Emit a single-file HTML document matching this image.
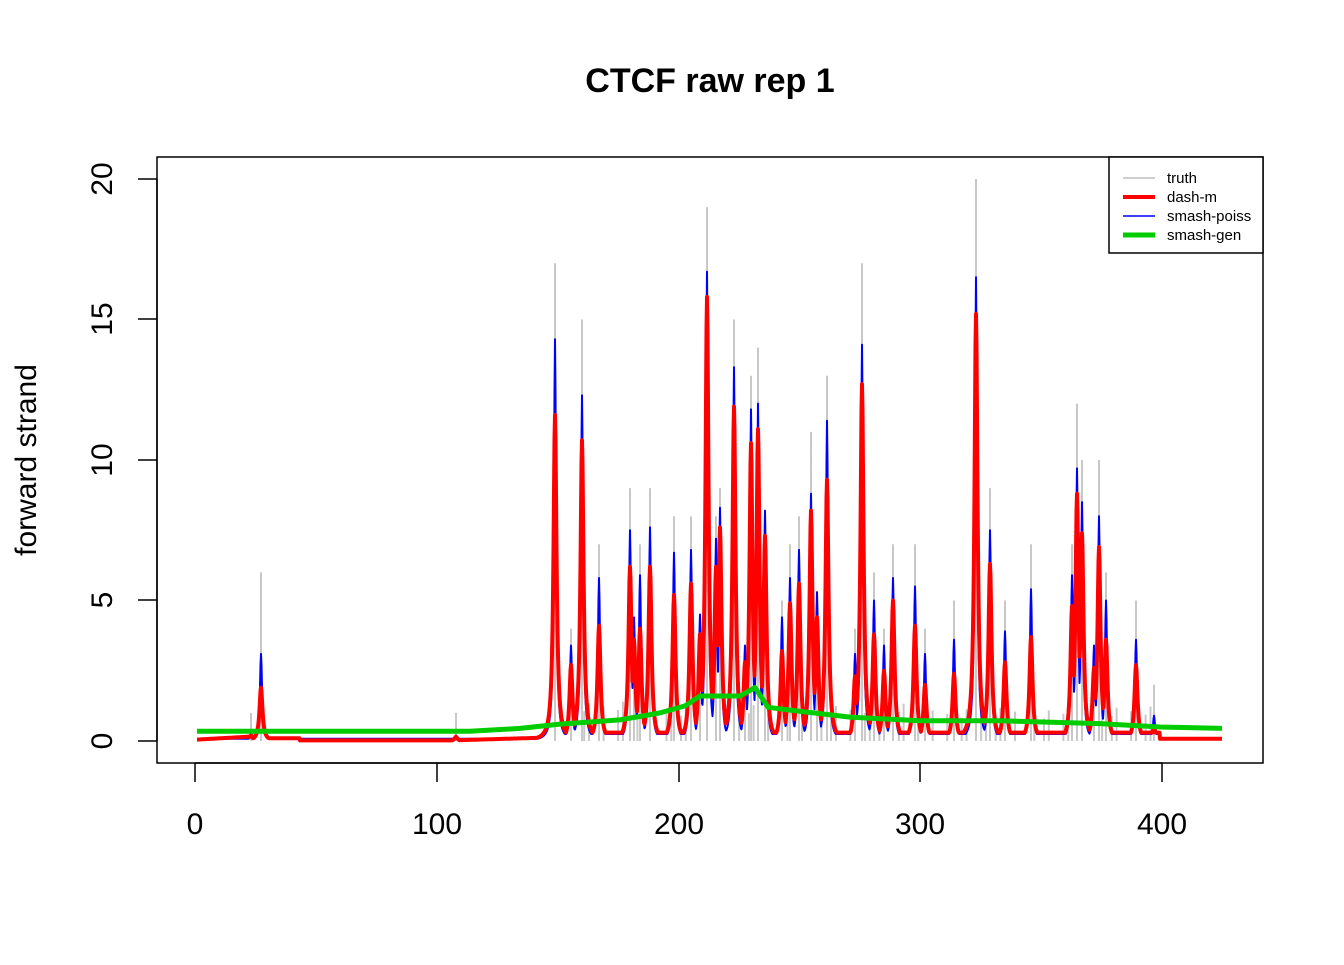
<!DOCTYPE html>
<html><head><meta charset="utf-8"><style>
body{margin:0;background:#fff}
svg text{font-family:"Liberation Sans",Arial,sans-serif}
</style></head><body>
<svg id="s" width="1344" height="960" xmlns="http://www.w3.org/2000/svg">
<rect width="1344" height="960" fill="#fff"/>
<text x="710" y="92" text-anchor="middle" font-size="34" font-weight="bold">CTCF raw rep 1</text>
<g id="plot"></g>
<rect x="157" y="157" width="1106" height="606" fill="none" stroke="#000" stroke-width="1.5"/>
<g stroke="#000" stroke-width="1.5">
<line x1="195" y1="763" x2="1162" y2="763"/>
<line x1="195" y1="763" x2="195" y2="782"/><line x1="437" y1="763" x2="437" y2="782"/><line x1="679" y1="763" x2="679" y2="782"/><line x1="920" y1="763" x2="920" y2="782"/><line x1="1162" y1="763" x2="1162" y2="782"/>
<line x1="157" y1="179" x2="157" y2="741"/>
<line x1="138" y1="741" x2="157" y2="741"/><line x1="138" y1="600" x2="157" y2="600"/><line x1="138" y1="460" x2="157" y2="460"/><line x1="138" y1="319" x2="157" y2="319"/><line x1="138" y1="179" x2="157" y2="179"/>
</g>
<g font-size="30" text-anchor="middle">
<text x="195" y="834">0</text><text x="437" y="834">100</text><text x="679" y="834">200</text><text x="920" y="834">300</text><text x="1162" y="834">400</text>
<text transform="translate(112,741) rotate(-90)">0</text>
<text transform="translate(112,600) rotate(-90)">5</text>
<text transform="translate(112,460) rotate(-90)">10</text>
<text transform="translate(112,319) rotate(-90)">15</text>
<text transform="translate(112,179) rotate(-90)">20</text>
<text transform="translate(36,460) rotate(-90)">forward strand</text>
</g>
<rect x="1109" y="157" width="154" height="96" fill="#fff" stroke="#000" stroke-width="1.5"/>
<line x1="1123" y1="178" x2="1155" y2="178" stroke="#bebebe" stroke-width="1.5"/>
<line x1="1123" y1="197" x2="1155" y2="197" stroke="#f00" stroke-width="4"/>
<line x1="1123" y1="216" x2="1155" y2="216" stroke="#00f" stroke-width="1.5"/>
<line x1="1123" y1="235" x2="1155" y2="235" stroke="#0c0" stroke-width="5"/>
<g font-size="15"><text x="1167" y="183">truth</text><text x="1167" y="202">dash-m</text><text x="1167" y="221">smash-poiss</text><text x="1167" y="240">smash-gen</text></g>
</svg>
<script>
var P=[[261,6,3.1,1.9],[251,1,0.3,0.2],[456,1,0.2,0.15],[555,17,14.3,11.6],[571,4,3.4,2.7],[582,15,12.3,10.7],[599,7,5.8,4.1],[630,9,7.5,6.2],[634,4,4.4,3.6],[640,7,5.9,4],[650,9,7.6,6.2],[674,8,6.7,5.2],[691,8,6.8,5.6],[700,4.5,4.5,3.8],[707,19,16.7,15.8],[716,8,7.2,6.2],[720,9,8.3,7.6],[734,15,13.3,11.9],[745,3.4,3.4,2.8],[751,13,11.8,10.6],[758,14,12,11.1],[765,8.2,8.2,7.3],[782,5,4.4,3.2],[790,7,5.8,4.9],[799,8,6.8,5.6],[811,11,8.8,8.2],[817,5.3,5.3,4.4],[827,13,11.4,9.3],[855,4,3.1,2.3],[862,17,14.1,12.7],[874,6,5,3.8],[884,4,3.4,2.5],[893,7,5.8,5],[915,7,5.5,4.1],[925,4,3.1,2],[954,5,3.6,2.4],[976,20,16.5,15.2],[990,9,7.5,6.3],[1005,5,3.9,2.8],[1031,7,5.4,3.7],[1072,7,5.9,4.8],[1077,12,9.7,8.8],[1082,10,8.5,7.4],[1094,3.4,3.4,2.6],[1099,10,8,6.9],[1106,6,5,3.6],[1136,5,3.6,2.7],[1154,2,0.9,0.5]];
function Y(v){return 741-28.1*v}
var g=document.getElementById('plot'),ns='http://www.w3.org/2000/svg',h='';
// truth bars
P.forEach(function(p){h+='M'+p[0]+' 741V'+Y(p[1]).toFixed(1)});
for(var x=560;x<1160;x+=4.84){var near=P.some(function(p){return Math.abs(p[0]-x)<2});if(!near&&((x*7)%3<1.6))h+='M'+x.toFixed(1)+' 741V'+Y(0.6+((x*13)%10)/10).toFixed(1)}
function el(d,c,w){var e=document.createElementNS(ns,'path');e.setAttribute('d',d);e.setAttribute('stroke',c);e.setAttribute('stroke-width',w);e.setAttribute('fill','none');e.setAttribute('stroke-linejoin','round');g.appendChild(e)}
el(h,'#c8c8c8',2);
function curve(idx,wd,base){var d='';for(var x=197;x<=1222;x+=0.5){var v=0;P.forEach(function(p){var t=(x-p[0])/wd;v=Math.max(v,p[idx]/(1+t*t))});var b=base(x);v=Math.max(v,b)+ (v>b?0:0);d+=(x==197?'M':'L')+x+' '+Y(v).toFixed(1)}return d}
el(curve(2,1.3,function(x){return (x>545&&x<1160)?0.25:0.08}),'#00f',2);
el(curve(3,1.8,function(x){if(x<250)return 0.05+0.1*(x-197)/50;if(x<300)return 0.1;if(x<450)return 0.02;if(x<545)return 0.02+0.1*(x-450)/95;if(x<1160)return 0.3;return 0.08}),'#f00',4);
var G=[[197,0.35],[470,0.35],[520,0.45],[560,0.6],[620,0.75],[660,1.0],[685,1.25],[700,1.6],[740,1.6],[755,1.9],[768,1.2],[790,1.1],[850,0.85],[920,0.72],[1000,0.72],[1100,0.62],[1160,0.5],[1222,0.45]];
el(G.map(function(p,i){return (i?'L':'M')+p[0]+' '+Y(p[1]).toFixed(1)}).join(''),'#0c0',5);
</script>
</body></html>
